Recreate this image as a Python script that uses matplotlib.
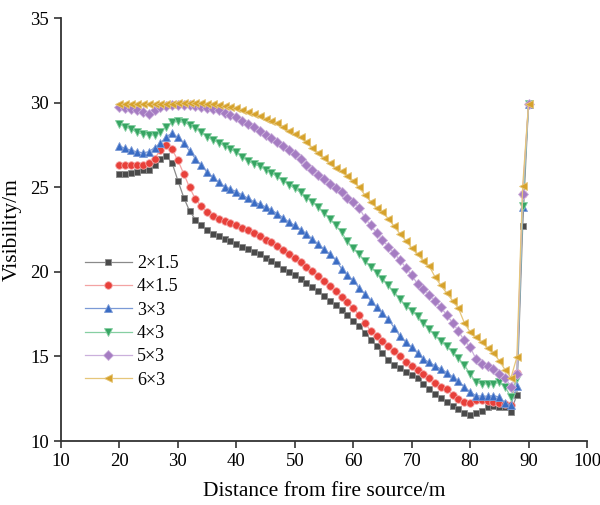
import numpy as np
import matplotlib
matplotlib.use("Agg")
import matplotlib.pyplot as plt

plt.rcParams['font.family'] = ['Liberation Serif', 'DejaVu Serif']

# distance from fire source (m)
distance = list(range(20, 91))

v_2x15 = [25.8, 25.8, 25.85, 25.9, 26.0, 26.05, 26.3, 26.65, 26.85, 26.45,
          25.4, 24.4, 23.6, 23.1, 22.75, 22.45, 22.26, 22.1, 21.97, 21.8,
          21.65, 21.5, 21.35, 21.2, 21.05, 20.85, 20.65, 20.45, 20.2, 20.0,
          19.8, 19.6, 19.35, 19.1, 18.85, 18.6, 18.3, 18.05, 17.75, 17.45,
          17.1, 16.8, 16.4, 16.0, 15.6, 15.2, 14.8, 14.5, 14.3, 14.1,
          13.9, 13.7, 13.4, 13.1, 12.8, 12.55, 12.3, 12.05, 11.9, 11.64,
          11.56, 11.64, 11.8, 12.0, 12.1, 12.0, 12.0, 11.74, 12.73, 22.7, 29.9]

v_4x15 = [26.3, 26.3, 26.3, 26.3, 26.35, 26.45, 26.7, 27.2, 27.5, 27.25,
          26.6, 25.8, 25.0, 24.3, 23.9, 23.55, 23.3, 23.15, 23.0, 22.9,
          22.75, 22.6, 22.45, 22.3, 22.1, 21.9, 21.75, 21.55, 21.3, 21.05,
          20.85, 20.6, 20.3, 20.05, 19.75, 19.45, 19.15, 18.85, 18.5, 18.2,
          17.85, 17.45, 17.0, 16.5, 16.2, 15.9, 15.6, 15.3, 15.0, 14.7,
          14.45, 14.2, 13.95, 13.7, 13.45, 13.2, 13.05, 12.75, 12.5, 12.3,
          12.27, 12.4, 12.4, 12.35, 12.3, 12.27, 12.2, 12.15, 14.05, 24.6, 29.95]

v_3x3 = [27.45, 27.3, 27.2, 27.1, 27.05, 27.1, 27.35, 27.6, 28.0, 28.2,
         27.95, 27.6, 27.15, 26.7, 26.3, 25.9, 25.6, 25.3, 25.05, 24.9,
         24.75, 24.55, 24.35, 24.15, 24.0, 23.85, 23.65, 23.45, 23.2, 22.95,
         22.75, 22.5, 22.25, 21.95, 21.65, 21.35, 21.05, 20.7, 20.2, 19.8,
         19.5, 19.05, 18.7, 18.3, 17.9, 17.55, 17.2, 16.7, 16.2, 15.85,
         15.55, 15.2, 14.85, 14.65, 14.45, 14.25, 14.05, 13.8, 13.55, 13.2,
         12.9, 12.68, 12.65, 12.65, 12.68, 12.6, 12.23, 12.15, 13.25, 23.85, 29.95]

v_4x3 = [28.75, 28.6, 28.45, 28.25, 28.15, 28.1, 28.1, 28.3, 28.6, 28.85,
         28.9, 28.85, 28.7, 28.5, 28.25, 28.0, 27.8, 27.65, 27.45, 27.25,
         27.1, 26.8, 26.55, 26.4, 26.25, 26.05, 25.85, 25.65, 25.4, 25.15,
         24.95, 24.7, 24.4, 24.15, 23.85, 23.5, 23.15, 22.75, 22.35, 21.8,
         21.4, 21.05, 20.65, 20.3, 19.95, 19.6, 19.2, 18.8, 18.4, 18.0,
         17.7, 17.4, 17.0, 16.6, 16.25, 15.9, 15.6, 15.25, 14.9, 14.5,
         13.97, 13.5, 13.38, 13.38, 13.4, 13.47, 13.2, 12.58, 13.75, 23.9, 29.95]

v_5x3 = [29.75, 29.7, 29.65, 29.55, 29.45, 29.35, 29.55, 29.75, 29.8, 29.85,
         29.85, 29.85, 29.85, 29.8, 29.75, 29.7, 29.65, 29.55, 29.4, 29.3,
         29.15, 28.95, 28.75, 28.55, 28.35, 28.1, 27.9, 27.7, 27.45, 27.2,
         27.0, 26.7, 26.35, 26.0, 25.75, 25.5, 25.2, 24.95, 24.7, 24.4,
         24.15, 23.8, 23.2, 22.75, 22.3, 21.9, 21.5, 21.1, 20.7, 20.25,
         19.8, 19.3, 19.0, 18.65, 18.3, 17.9, 17.45, 17.0, 16.5, 15.95,
         15.55, 14.86, 14.56, 14.46, 14.27, 13.97, 13.75, 13.2, 13.97, 24.6, 29.95]

v_6x3 = [29.95, 29.95, 29.95, 29.95, 29.95, 29.95, 29.95, 29.95, 29.95, 29.95,
         29.97, 29.97, 30.0, 30.0, 29.97, 29.95, 29.92, 29.88, 29.83, 29.78,
         29.7, 29.55, 29.45, 29.35, 29.2, 29.05, 28.9, 28.8, 28.6, 28.35,
         28.15, 27.95, 27.7, 27.35, 27.05, 26.75, 26.45, 26.15, 25.95, 25.7,
         25.4, 25.0, 24.55, 24.15, 23.8, 23.55, 23.15, 22.7, 22.25, 21.85,
         21.4, 21.05, 20.65, 20.35, 19.7, 19.2, 18.75, 18.3, 17.85, 17.0,
         16.45, 16.15, 15.85, 15.5, 15.2, 14.75, 14.2, 13.75, 14.95, 25.1, 29.95]

labels = ['2×1.5', '4×1.5', '3×3', '4×3', '5×3', '6×3']
series = [v_2x15, v_4x15, v_3x3, v_4x3, v_5x3, v_6x3]
markers = ['s', 'o', '^', 'v', 'D', '<']
mcolors = ['#4a4a4a', '#e8403a', '#3a6cc4', '#37a563', '#a57cc2', '#d6a22c']
lcolors = ['#8a8a8a', '#f3a3a3', '#7b9ad6', '#86cfa2', '#cbb0dc', '#e6c67a']
msizes = [4.8, 5.4, 5.4, 5.4, 4.8, 5.4]

fig = plt.figure(figsize=(6, 5.05), dpi=100)
ax = fig.add_axes([0.1017, 0.1267, 0.8766, 0.8371])

for y, lab, m, mc, lc, ms in zip(series, labels, markers, mcolors, lcolors, msizes):
    ax.plot(distance, y, color=lc, lw=0.9, marker=m, ms=ms,
            mfc=mc, mec=lc, mew=0.6, label=lab)

ax.set_xlim(10, 100)
ax.set_ylim(10, 35)
ax.set_xticks(np.arange(10, 101, 10))
ax.set_yticks(np.arange(10, 36, 5))

for s in ['top', 'right']:
    ax.spines[s].set_visible(False)
for s in ['left', 'bottom']:
    ax.spines[s].set_linewidth(1.3)
    ax.spines[s].set_color('#333333')
ax.tick_params(direction='out', length=5, width=1.2, labelsize=13.5, color='#333333')

ax.set_xlabel('Distance from fire source/m', fontsize=15.5, labelpad=9)
ax.set_ylabel('Visibility/m', fontsize=15.5, labelpad=6)

ax.legend(loc='upper left', bbox_to_anchor=(0.045, 0.44), frameon=False,
          fontsize=13, handlelength=2.6, handletextpad=0.3, labelspacing=0.35,
          borderpad=0, borderaxespad=0)

fig.savefig('out.png', dpi=100)
